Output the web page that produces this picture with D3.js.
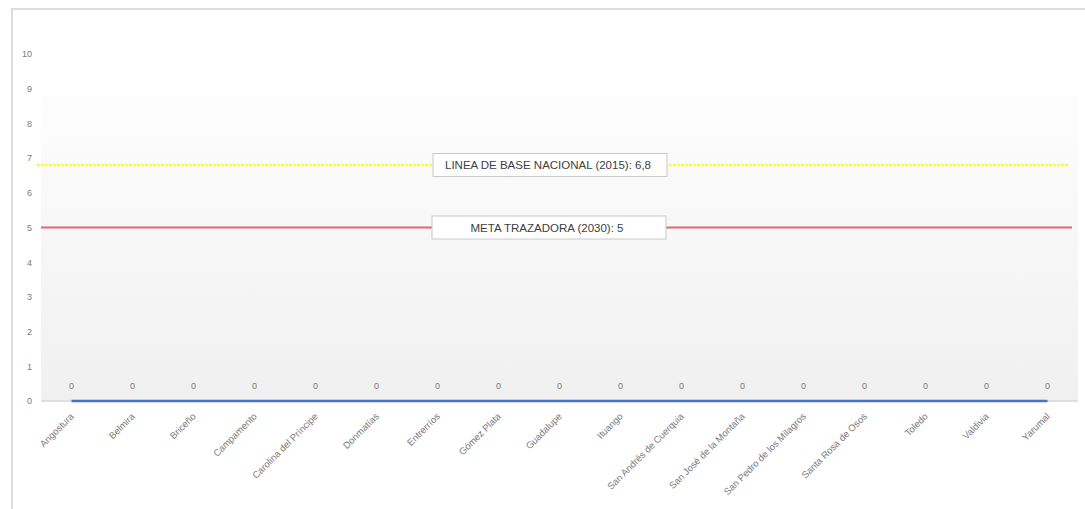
<!DOCTYPE html>
<html>
<head>
<meta charset="utf-8">
<script src="https://cdn.jsdelivr.net/npm/d3@7"></script>
<style>
  html, body { margin: 0; padding: 0; background: #ffffff; }
  svg { display: block; }
</style>
</head>
<body>
<svg id="chart" width="1085" height="509"></svg>
<script>
// Municipios y valor del indicador
const municipios = [
  "Angostura", "Belmira", "Briceño", "Campamento", "Carolina del Príncipe",
  "Donmatías", "Entrerríos", "Gómez Plata", "Guadalupe", "Ituango",
  "San Andrés de Cuerquia", "San José de la Montaña", "San Pedro de los Milagros",
  "Santa Rosa de Osos", "Toledo", "Valdivia", "Yarumal"
];
const valores = [0, 0, 0, 0, 0, 0, 0, 0, 0, 0, 0, 0, 0, 0, 0, 0, 0];

// Líneas de referencia
const lineaBase = 6.8;
const metaTrazadora = 5;
const etiquetaBase = "LINEA DE BASE NACIONAL (2015): 6,8";
const etiquetaMeta = "META TRAZADORA (2030): 5";

const yTicks = [0, 1, 2, 3, 4, 5, 6, 7, 8, 9, 10];

const svg = d3.select("#chart");
const W = 1085, H = 509;
const plot = { left: 41, right: 1078, top: 54, bottom: 401 };

// Marco exterior
svg.append("path")
  .attr("d", `M12,${H} L12,9 L${W},9`)
  .attr("fill", "none")
  .attr("stroke", "#dcdcdc")
  .attr("stroke-width", 2);

const x = d3.scaleBand()
  .domain(municipios)
  .range([plot.left, plot.right])
  .paddingInner(0)
  .paddingOuter(0);

const y = d3.scaleLinear()
  .domain([0, 10])
  .range([plot.bottom, plot.top]);

// Fondo del área de trazado con degradado
const defs = svg.append("defs");
const grad = defs.append("linearGradient")
  .attr("id", "fondo")
  .attr("x1", 0).attr("y1", 0).attr("x2", 0).attr("y2", 1);
grad.append("stop").attr("offset", "0%").attr("stop-color", "#fdfdfd");
grad.append("stop").attr("offset", "100%").attr("stop-color", "#f0f0f0");

svg.append("rect")
  .attr("x", plot.left)
  .attr("y", y(8.8))
  .attr("width", plot.right - plot.left)
  .attr("height", plot.bottom - y(8.8))
  .attr("fill", "url(#fondo)");

// Eje Y
const yAxis = svg.append("g")
  .attr("transform", `translate(${plot.left - 9},0)`)
  .call(d3.axisLeft(y).tickValues(yTicks).tickSize(0).tickPadding(0).tickFormat(d3.format("d")));
yAxis.select(".domain").remove();
yAxis.selectAll("text")
  .attr("fill", "#7a7a7a")
  .style("font-family", "'Liberation Sans', Arial, sans-serif")
  .style("font-size", "9px");

// Eje X
svg.append("line")
  .attr("x1", plot.left).attr("x2", plot.right)
  .attr("y1", y(0)).attr("y2", y(0))
  .attr("stroke", "#d9d9d9")
  .attr("stroke-width", 1.5);

const xAxis = svg.append("g")
  .attr("transform", `translate(0,${y(0)})`)
  .call(d3.axisBottom(x).tickSize(0).tickPadding(0));
xAxis.select(".domain").remove();
xAxis.selectAll("text")
  .attr("fill", "#7a7a7a")
  .style("font-family", "'Liberation Sans', Arial, sans-serif")
  .style("font-size", "9.5px")
  .attr("text-anchor", "end")
  .attr("dy", null)
  .attr("transform", "translate(3,16) rotate(-45)");

// Línea de referencia: línea de base nacional (punteada amarilla)
svg.append("line")
  .attr("x1", plot.left - 4).attr("x2", plot.right - 10)
  .attr("y1", y(lineaBase)).attr("y2", y(lineaBase))
  .attr("stroke", "#ffff00")
  .attr("stroke-width", 2.5)
  .attr("stroke-dasharray", "2.5,1.5");

// Línea de referencia: meta trazadora (roja)
svg.append("line")
  .attr("x1", plot.left).attr("x2", plot.right - 6)
  .attr("y1", y(metaTrazadora)).attr("y2", y(metaTrazadora))
  .attr("stroke", "#e06670")
  .attr("stroke-width", 2);

// Serie de valores por municipio
const line = d3.line()
  .x((d, i) => x(municipios[i]) + x.bandwidth() / 2)
  .y(d => y(d));
svg.append("path")
  .datum(valores)
  .attr("d", line)
  .attr("fill", "none")
  .attr("stroke", "#4472c4")
  .attr("stroke-width", 2.5);

// Etiquetas de datos
svg.append("g").selectAll("text")
  .data(valores)
  .join("text")
  .attr("x", (d, i) => x(municipios[i]) + x.bandwidth() / 2)
  .attr("y", d => y(d) - 12)
  .attr("text-anchor", "middle")
  .attr("fill", "#7a7a7a")
  .style("font-family", "'Liberation Sans', Arial, sans-serif")
  .style("font-size", "9px")
  .text(d => d3.format("d")(d));

// Cuadros de texto de las líneas de referencia
function cuadro(valor, texto, x0, ancho) {
  const cy = y(valor);
  const g = svg.append("g");
  g.append("rect")
    .attr("x", x0).attr("y", cy - 11.5)
    .attr("width", ancho).attr("height", 23)
    .attr("fill", "#ffffff")
    .attr("stroke", "#c8c8c8")
    .attr("stroke-width", 1);
  g.append("text")
    .attr("x", x0 + ancho / 2 - 2)
    .attr("y", cy + 4)
    .attr("text-anchor", "middle")
    .attr("fill", "#404040")
    .style("font-family", "'Liberation Sans Narrow', 'Liberation Sans', Arial, sans-serif")
    .style("font-size", "11.5px")
    .text(texto);
}
cuadro(lineaBase, etiquetaBase, 433, 234);
cuadro(metaTrazadora, etiquetaMeta, 432, 234);
</script>
</body>
</html>
